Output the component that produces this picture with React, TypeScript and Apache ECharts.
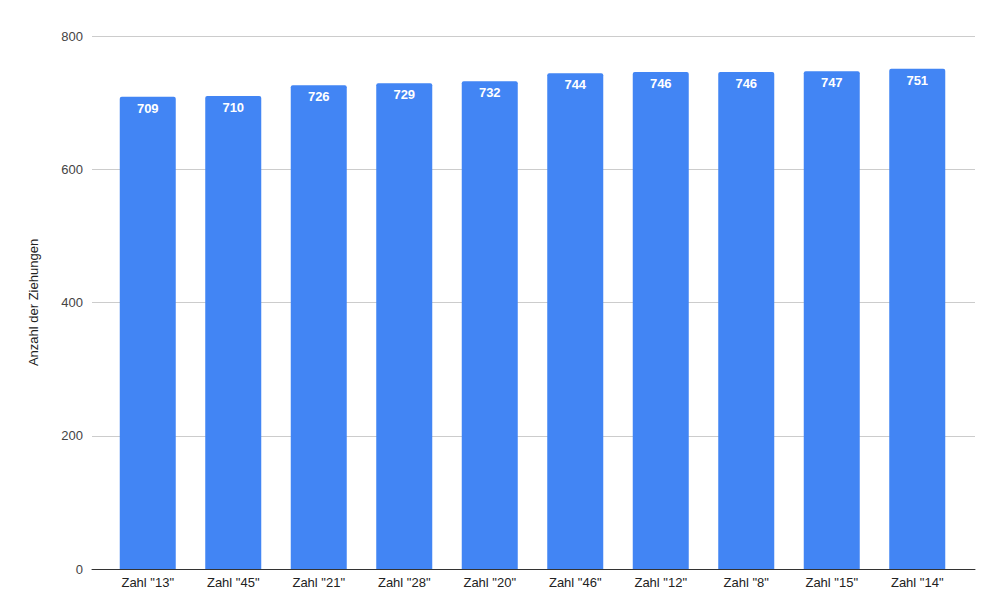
import React, { useEffect, useRef } from 'react';
import * as echarts from 'echarts';

const categories = ['Zahl "13"', 'Zahl "45"', 'Zahl "21"', 'Zahl "28"', 'Zahl "20"', 'Zahl "46"', 'Zahl "12"', 'Zahl "8"', 'Zahl "15"', 'Zahl "14"'];
const draws = [709, 710, 726, 729, 732, 744, 746, 746, 747, 751];
const yTicks = [0, 200, 400, 600, 800];

const FONT = '"Liberation Sans", Arial, sans-serif';

const App: React.FC = () => {
  const chartRef = useRef<HTMLDivElement>(null);

  useEffect(() => {
    if (!chartRef.current) return;
    const chart = echarts.init(chartRef.current, undefined, { renderer: 'svg' });

    const option: echarts.EChartsOption = {
      animation: false,
      textStyle: { fontFamily: FONT },
      grid: [
        // background grid: gridlines and axis line span full width
        { left: 92, right: 25, top: 36, bottom: 46 },
        // bars sit a bit inside
        { left: 105, right: 40, top: 36, bottom: 46 }
      ],
      xAxis: [
        {
          type: 'category',
          gridIndex: 0,
          data: [''],
          axisLine: { lineStyle: { color: '#333333', width: 1 } },
          axisTick: { show: false },
          axisLabel: { show: false }
        },
        {
          type: 'category',
          gridIndex: 1,
          data: categories,
          axisLine: { show: false },
          axisTick: { show: false },
          axisLabel: { color: '#222222', fontSize: 13, fontFamily: FONT, margin: 7, interval: 0 }
        }
      ],
      yAxis: [
        {
          type: 'value',
          gridIndex: 0,
          min: yTicks[0],
          max: yTicks[yTicks.length - 1],
          interval: 200,
          name: 'Anzahl der Ziehungen',
          nameLocation: 'middle',
          nameGap: 52,
          nameTextStyle: { color: '#222222', fontSize: 13, fontFamily: FONT },
          axisLine: { show: false },
          axisTick: { show: false },
          axisLabel: { color: '#444444', fontSize: 13, fontFamily: FONT, margin: 9 },
          splitLine: { lineStyle: { color: '#cccccc', width: 1 } }
        },
        {
          type: 'value',
          gridIndex: 1,
          min: yTicks[0],
          max: yTicks[yTicks.length - 1],
          interval: 200,
          axisLine: { show: false },
          axisTick: { show: false },
          axisLabel: { show: false },
          splitLine: { show: false }
        }
      ],
      series: [
        {
          type: 'bar',
          xAxisIndex: 1,
          yAxisIndex: 1,
          data: draws,
          barWidth: '65.5%',
          itemStyle: { color: '#4285F4', borderRadius: [2, 2, 0, 0] },
          label: {
            show: true,
            position: 'insideTop',
            distance: 5,
            color: '#ffffff',
            fontSize: 13,
            fontFamily: FONT,
            fontWeight: 'bold'
          }
        }
      ]
    };

    chart.setOption(option);
    return () => {
      chart.dispose();
    };
  }, []);

  return (
    <div
      ref={chartRef}
      style={{ position: 'fixed', left: 0, top: 0, width: '1000px', height: '615px', background: '#ffffff' }}
    />
  );
};

export default App;
